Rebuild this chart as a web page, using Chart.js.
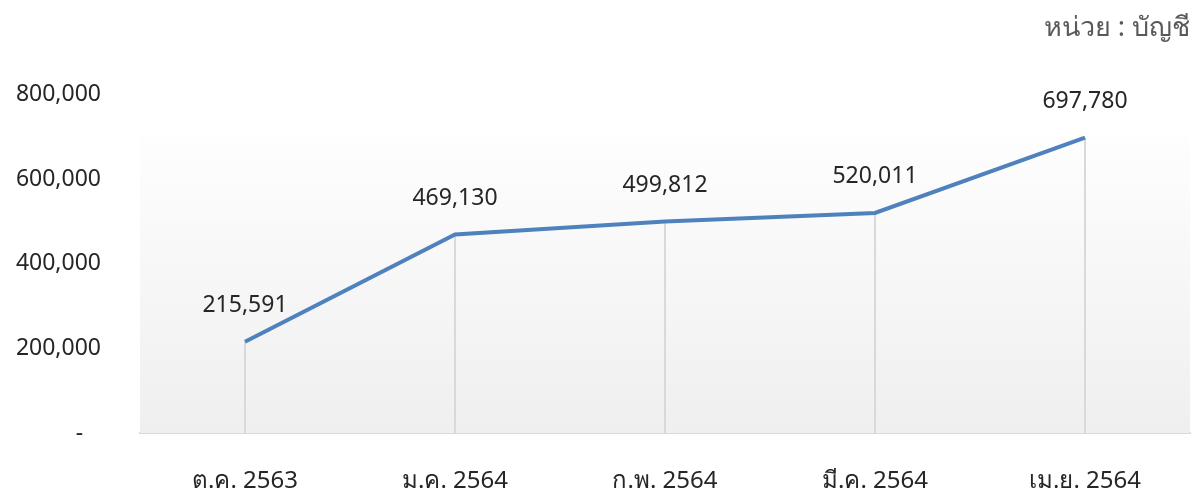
<!DOCTYPE html>
<html>
<head>
<meta charset="utf-8">
<script src="https://cdn.jsdelivr.net/npm/chart.js@4"></script>
<style>
  html, body { margin: 0; padding: 0; background: #fff; }
  #wrap { width: 1199px; height: 491px; }
</style>
</head>
<body>
<div id="wrap"><canvas id="accounts"></canvas></div>
<script>
// months (Thai Buddhist year)
const months = ['ต.ค. 2563', 'ม.ค. 2564', 'ก.พ. 2564', 'มี.ค. 2564', 'เม.ย. 2564'];
const accounts = [215591, 469130, 499812, 520011, 697780];
const yTicks = [0, 200000, 400000, 600000, 800000];
const unitText = 'หน่วย : บัญชี';

const FONT = "'Noto Sans', 'Open Sans', sans-serif";

function fmt(v) {
    return v === 0 ? '-   ' : v.toLocaleString('en-US');
}

// gradient plot background + drop lines
const plotBg = {
    id: 'plotBg',
    beforeDatasetsDraw(chart) {
        const { ctx, chartArea: a } = chart;
        const top = a.top + (a.bottom - a.top) * 0.12;
        const g = ctx.createLinearGradient(0, top, 0, a.bottom);
        g.addColorStop(0, '#fefefe');
        g.addColorStop(1, '#efefef');
        ctx.save();
        ctx.fillStyle = g;
        ctx.fillRect(a.left, top, a.right - a.left, a.bottom - top);
        // drop lines
        ctx.strokeStyle = '#d9d9d9';
        ctx.lineWidth = 2;
        chart.getDatasetMeta(0).data.forEach(p => {
            ctx.beginPath();
            ctx.moveTo(p.x, p.y);
            ctx.lineTo(p.x, a.bottom);
            ctx.stroke();
        });
        ctx.restore();
    }
};

const valueLabels = {
    id: 'valueLabels',
    afterDatasetsDraw(chart) {
        const { ctx } = chart;
        ctx.save();
        ctx.font = '23px ' + FONT;
        ctx.fillStyle = '#262626';
        ctx.textAlign = 'center';
        ctx.textBaseline = 'middle';
        chart.getDatasetMeta(0).data.forEach((p, i) => {
            ctx.fillText(fmt(accounts[i]), p.x, p.y - 36);
        });
        ctx.restore();
    }
};

new Chart(document.getElementById('accounts').getContext('2d'), {
    type: 'line',
    data: {
        labels: months,
        datasets: [{
            data: accounts,
            borderColor: '#4f81bd',
            borderWidth: 4,
            pointRadius: 0,
            tension: 0,
            fill: false
        }]
    },
    options: {
        responsive: true,
        maintainAspectRatio: false,
        animation: false,
        layout: { padding: { left: 0, right: 9, top: 0, bottom: 0 } },
        plugins: {
            legend: { display: false },
            tooltip: { enabled: false },
            title: {
                display: true,
                text: unitText,
                align: 'end',
                color: '#595959',
                font: { family: FONT, size: 27, weight: 'normal' },
                padding: { top: 12, bottom: 50 }
            }
        },
        scales: {
            x: {
                offset: true,
                grid: { display: false },
                border: { display: true, color: '#d9d9d9', width: 2 },
                ticks: {
                    color: '#262626',
                    font: { family: FONT, size: 24 },
                    padding: 26,
                    maxRotation: 0
                },
                afterFit(s) { s.height = 58; }
            },
            y: {
                min: 0,
                max: 800000,
                afterBuildTicks(s) { s.ticks = yTicks.map(v => ({ value: v })); },
                grid: { display: false },
                border: { display: false },
                ticks: {
                    color: '#262626',
                    font: { family: FONT, size: 23 },
                    padding: 31,
                    callback: v => fmt(v)
                },
                afterFit(s) { s.width = 140; }
            }
        }
    },
    plugins: [plotBg, valueLabels]
});
</script>
</body>
</html>
